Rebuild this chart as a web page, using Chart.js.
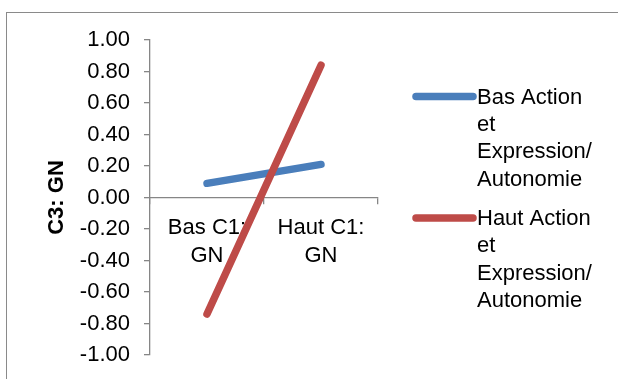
<!DOCTYPE html>
<html>
<head>
<meta charset="utf-8">
<script src="https://cdn.jsdelivr.net/npm/chart.js@4/dist/chart.umd.min.js"></script>
<style>
  html, body { margin: 0; padding: 0; background: #fff; }
  #wrap { width: 618px; height: 379px; position: relative; }
</style>
</head>
<body>
<div id="wrap"><canvas id="c" width="618" height="379"></canvas></div>
<script>
// Categories (x axis, wrapped onto two lines)
const categories = [['Bas C1:', 'GN'], ['Haut C1:', 'GN']];

// Series values
const basAction = [0.09, 0.21];
const hautAction = [-0.74, 0.84];

// Series names, and how they wrap in the legend
const seriesNames = [
  'Bas Action et Expression/ Autonomie',
  'Haut Action et Expression/ Autonomie'
];
const legendLines = [
  ['Bas Action', 'et', 'Expression/', 'Autonomie'],
  ['Haut Action', 'et', 'Expression/', 'Autonomie']
];

// Y axis range and tick step
const yMin = -1.0, yMax = 1.0, yStep = 0.2;

const yTitle = 'C3: GN';

const FONT = '"Liberation Sans", Arial, sans-serif';
const AXIS_GREY = '#868686';
const BLUE = '#4A7EBB';
const RED = '#BE4B48';

// Outer frame of the chart object
const framePlugin = {
  id: 'frame',
  beforeDraw(chart) {
    const ctx = chart.ctx;
    ctx.save();
    ctx.fillStyle = '#fff';
    ctx.fillRect(0, 0, chart.width, chart.height);
    ctx.strokeStyle = '#8a8a8a';
    ctx.lineWidth = 1;
    ctx.strokeRect(6.5, 12.5, chart.width + 20, chart.height + 20);
    ctx.restore();
  }
};

// Legend on the right with wrapped entry text
const wrappedLegend = {
  id: 'wrappedLegend',
  afterDraw(chart) {
    const ctx = chart.ctx;
    const area = chart.chartArea;
    const x0 = area.right + 38;
    const x1 = area.right + 95;
    const tx = area.right + 99;
    const lineH = 27.4;
    ctx.save();
    ctx.font = '22px ' + FONT;
    ctx.textBaseline = 'middle';
    ctx.textAlign = 'left';
    chart.data.datasets.forEach((ds, i) => {
      const y = area.top + 56.5 + i * 121.5;
      ctx.strokeStyle = ds.borderColor;
      ctx.lineWidth = 7.5;
      ctx.lineCap = 'round';
      ctx.beginPath();
      ctx.moveTo(x0, y);
      ctx.lineTo(x1, y);
      ctx.stroke();
      ctx.fillStyle = '#000';
      legendLines[i].forEach((t, k) => ctx.fillText(t, tx, y + k * lineH + 1));
    });
    ctx.restore();
  }
};

new Chart(document.getElementById('c'), {
  type: 'line',
  data: {
    labels: categories,
    datasets: [
      {
        label: seriesNames[0],
        data: basAction,
        borderColor: BLUE,
        backgroundColor: BLUE,
        borderWidth: 7.5,
        borderCapStyle: 'round',
        pointRadius: 0,
        tension: 0,
        order: 1
      },
      {
        label: seriesNames[1],
        data: hautAction,
        borderColor: RED,
        backgroundColor: RED,
        borderWidth: 7.5,
        borderCapStyle: 'round',
        pointRadius: 0,
        tension: 0,
        order: 0
      }
    ]
  },
  options: {
    responsive: false,
    animation: false,
    layout: { padding: { left: 44, right: 240, top: 40, bottom: 24 } },
    plugins: {
      legend: { display: false },
      tooltip: { enabled: false }
    },
    scales: {
      x: {
        type: 'category',
        position: { y: 0 },
        offset: true,
        border: { color: AXIS_GREY, width: 1.3 },
        grid: {
          offset: true,
          drawOnChartArea: false,
          drawTicks: true,
          tickLength: 6,
          color: AXIS_GREY,
          lineWidth: 1.3
        },
        ticks: {
          color: '#000',
          padding: 11,
          maxRotation: 0,
          autoSkip: false,
          font: { family: FONT, size: 22, lineHeight: 1.25 }
        },
        afterFit(scale) {
          scale.paddingLeft = 0;
          scale.paddingRight = 0;
        }
      },
      y: {
        type: 'linear',
        min: yMin,
        max: yMax,
        border: { color: AXIS_GREY, width: 1.3 },
        grid: {
          drawOnChartArea: false,
          drawTicks: true,
          tickLength: 6,
          color: AXIS_GREY,
          lineWidth: 1.3
        },
        ticks: {
          stepSize: yStep,
          color: '#000',
          padding: 14,
          font: { family: FONT, size: 22 },
          callback: (v) => (Math.abs(v) < 1e-9 ? 0 : v).toFixed(2)
        },
        title: {
          display: true,
          text: yTitle,
          color: '#000',
          padding: { top: 0, bottom: 0 },
          font: { family: FONT, size: 22, weight: 'bold', lineHeight: 1.2 }
        },
        afterFit(scale) {
          scale.width = 106;
          scale.paddingTop = 0;
          scale.paddingBottom = 0;
        }
      }
    }
  },
  plugins: [framePlugin, wrappedLegend]
});
</script>
</body>
</html>
